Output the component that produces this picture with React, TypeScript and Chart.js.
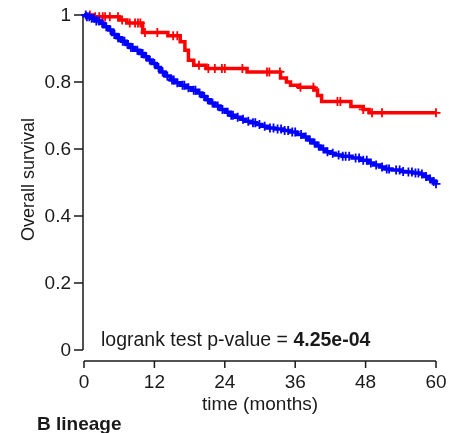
import { useEffect, useRef } from "react";
import { Chart, registerables } from "chart.js";

Chart.register(...registerables);

// Axis ticks
const monthTicks = [0, 12, 24, 36, 48, 60];
const survivalTicks = [0, 0.2, 0.4, 0.6, 0.8, 1];
const survivalTickLabels = ["0", "0.2", "0.4", "0.6", "0.8", "1"];

// Kaplan–Meier steps for the red group: event time (months) and survival after it
const redTimes = [0, 1.5, 6.0, 7.3, 10.0, 14.3, 16.4, 17.2, 17.8, 18.7, 20.8, 27.8, 33.5, 34.5, 35.2, 36.6, 39.2, 39.8, 40.5, 45.5, 47.6, 48.6, 60];
const redSurvival = [1.0, 0.995, 0.985, 0.976, 0.948, 0.938, 0.92, 0.895, 0.865, 0.85, 0.84, 0.83, 0.812, 0.80, 0.79, 0.784, 0.776, 0.76, 0.742, 0.727, 0.718, 0.708, 0.708];
const redCensored = [1.0, 1.9, 2.6, 3.2, 3.6, 4.4, 5.8, 6.5, 7.8, 8.7, 9.2, 9.6, 10.4, 12.5, 15.2, 15.9, 19.6, 21.2, 22.3, 23.5, 24.0, 27.0, 31.2, 31.6, 33.4, 36.9, 39.1, 43.2, 43.7, 47.6, 49.1, 50.8, 60.0];

// Kaplan–Meier steps for the blue group
const blueTimes = [0, 0.5, 1.2, 2.0, 2.7, 3.4, 4.2, 4.9, 5.6, 6.4, 7.2, 7.8, 8.6, 9.5, 10.3, 10.9, 11.6, 12.3, 13.0, 13.8, 14.7, 15.5, 16.4, 17.4, 18.3, 19.3, 20.1, 20.8, 21.5, 22.3, 23.2, 24.1, 24.9, 25.8, 26.7, 27.5, 28.3, 29.4, 30.3, 31.2, 32.5, 33.8, 35.1, 36.3, 37.4, 38.2, 38.9, 39.6, 40.3, 41.2, 42.0, 42.8, 44.0, 45.7, 47.0, 48.5, 49.4, 50.4, 51.3, 52.5, 54.0, 54.8, 56.0, 57.3, 58.0, 58.7, 59.4, 60.0];
const blueSurvival = [1.0, 0.995, 0.99, 0.982, 0.975, 0.965, 0.955, 0.942, 0.932, 0.922, 0.912, 0.903, 0.895, 0.885, 0.875, 0.866, 0.855, 0.843, 0.83, 0.818, 0.806, 0.798, 0.79, 0.783, 0.775, 0.767, 0.757, 0.747, 0.737, 0.728, 0.718, 0.71, 0.701, 0.695, 0.689, 0.683, 0.678, 0.673, 0.668, 0.663, 0.66, 0.655, 0.651, 0.643, 0.636, 0.627, 0.618, 0.609, 0.6, 0.592, 0.587, 0.582, 0.578, 0.573, 0.566, 0.558, 0.552, 0.546, 0.54, 0.537, 0.533, 0.531, 0.528, 0.525, 0.518, 0.51, 0.503, 0.496];
const blueCensored = [0.3, 0.5, 0.9, 1.3, 1.7, 2.1, 2.6, 3.1, 3.8, 4.5, 5.2, 5.8, 6.0, 6.6, 6.9, 7.5, 8.0, 8.3, 9.1, 9.8, 10.0, 10.6, 11.2, 12.0, 12.7, 13.4, 14.2, 15.0, 15.3, 15.9, 16.8, 17.1, 17.8, 18.7, 19.0, 19.7, 20.5, 21.1, 21.9, 22.8, 23.6, 24.5, 25.1, 25.4, 26.2, 27.1, 28.0, 28.8, 29.2, 29.9, 30.8, 31.7, 32.3, 33.0, 33.6, 34.2, 34.8, 35.5, 36.0, 37.0, 37.8, 38.5, 39.3, 40.0, 40.8, 41.5, 42.4, 43.4, 44.1, 44.6, 45.2, 46.3, 46.9, 47.6, 48.2, 48.9, 49.8, 50.8, 51.6, 52.0, 53.2, 53.8, 54.4, 55.3, 55.9, 56.5, 57.0, 57.6, 58.3, 59.0, 59.6, 60.0];

const pValueText = "logrank test p-value = ";
const pValueNumber = "4.25e-04";
const panelTitle = "B lineage";
const xTitle = "time (months)";
const yTitle = "Overall survival";

const RED = "#ff0000";
const BLUE = "#0000ff";
const INK = "#1a1a1a";
const FONT = "\"Liberation Sans\", Arial, sans-serif";

function stepPoints(times: number[], surv: number[]) {
  return times.map((t, i) => ({ x: t, y: surv[i] }));
}

function survivalAt(times: number[], surv: number[], t: number) {
  let s = surv[0];
  for (let i = 0; i < times.length; i++) {
    if (times[i] <= t) s = surv[i];
  }
  return s;
}

function censorPoints(times: number[], surv: number[], censored: number[]) {
  return censored.map((t) => ({ x: t, y: survivalAt(times, surv, t) }));
}

const axesAndText = {
  id: "axesAndText",
  beforeDatasetsDraw(chart: any) {
    const { ctx } = chart;
    const xs = chart.scales.x;
    const ys = chart.scales.y;
    const axisX = xs.getPixelForValue(0) - 1;
    const axisY = ys.getPixelForValue(ys.min);
    ctx.save();
    ctx.strokeStyle = INK;
    ctx.lineWidth = 1.5;
    ctx.beginPath();
    ctx.moveTo(axisX, ys.getPixelForValue(1));
    ctx.lineTo(axisX, ys.getPixelForValue(0));
    survivalTicks.forEach((v) => {
      const y = ys.getPixelForValue(v);
      ctx.moveTo(axisX - 9, y);
      ctx.lineTo(axisX, y);
    });
    ctx.moveTo(xs.getPixelForValue(0), axisY);
    ctx.lineTo(xs.getPixelForValue(60), axisY);
    monthTicks.forEach((v) => {
      const x = xs.getPixelForValue(v);
      ctx.moveTo(x, axisY);
      ctx.lineTo(x, axisY + 7);
    });
    ctx.stroke();
    ctx.restore();
  },
  afterDraw(chart: any) {
    const { ctx } = chart;
    const xs = chart.scales.x;
    const ys = chart.scales.y;
    const axisX = xs.getPixelForValue(0) - 1;
    const axisY = ys.getPixelForValue(ys.min);
    ctx.save();
    ctx.fillStyle = INK;
    ctx.textBaseline = "middle";

    ctx.font = `19px ${FONT}`;
    ctx.textAlign = "right";
    survivalTicks.forEach((v, i) => {
      ctx.fillText(survivalTickLabels[i], axisX - 12, ys.getPixelForValue(v) + 1);
    });

    ctx.textAlign = "center";
    monthTicks.forEach((v) => {
      ctx.fillText(String(v), xs.getPixelForValue(v), axisY + 22);
    });

    const area = chart.chartArea;
    ctx.fillText(xTitle, (area.left + area.right) / 2, axisY + 44);

    ctx.save();
    ctx.font = `18px ${FONT}`;
    ctx.translate(29, (ys.getPixelForValue(1) + ys.getPixelForValue(0)) / 2 - 3);
    ctx.rotate(-Math.PI / 2);
    ctx.fillText(yTitle, 0, 0);
    ctx.restore();

    ctx.textAlign = "left";
    ctx.font = `19.5px ${FONT}`;
    const px = xs.getPixelForValue(0) + 17;
    const py = ys.getPixelForValue(0) - 9;
    ctx.fillText(pValueText, px, py);
    const w = ctx.measureText(pValueText).width;
    ctx.font = `bold 19.5px ${FONT}`;
    ctx.fillText(pValueNumber, px + w, py);

    ctx.textBaseline = "alphabetic";
    ctx.font = `bold 19px ${FONT}`;
    ctx.fillText(panelTitle, 37, 430);
    ctx.restore();
  },
};

export default function App() {
  const canvasRef = useRef<HTMLCanvasElement | null>(null);

  useEffect(() => {
    const canvas = canvasRef.current;
    if (!canvas) return;
    const chart = new Chart(canvas, {
      type: "line",
      data: {
        datasets: [
          {
            label: "blue censored",
            data: censorPoints(blueTimes, blueSurvival, blueCensored),
            showLine: false,
            pointStyle: "cross",
            pointRadius: 4.5,
            pointBorderWidth: 1.8,
            pointBorderColor: BLUE,
            pointBackgroundColor: BLUE,
            clip: false,
          },
          {
            label: "blue",
            data: stepPoints(blueTimes, blueSurvival),
            stepped: "before",
            borderColor: BLUE,
            borderWidth: 3.5,
            pointRadius: 0,
            clip: false,
          },
          {
            label: "red censored",
            data: censorPoints(redTimes, redSurvival, redCensored),
            showLine: false,
            pointStyle: "cross",
            pointRadius: 4.5,
            pointBorderWidth: 1.8,
            pointBorderColor: RED,
            pointBackgroundColor: RED,
            clip: false,
          },
          {
            label: "red",
            data: stepPoints(redTimes, redSurvival),
            stepped: "before",
            borderColor: RED,
            borderWidth: 3.5,
            pointRadius: 0,
            clip: false,
          },
        ],
      },
      options: {
        animation: false,
        responsive: false,
        events: [],
        layout: { padding: { top: 15, right: 23, left: 0, bottom: 0 } },
        plugins: { legend: { display: false }, tooltip: { enabled: false } },
        scales: {
          x: {
            type: "linear",
            min: 0,
            max: 60,
            grid: { display: false },
            border: { display: false },
            ticks: { display: false },
            afterFit: (scale: any) => {
              scale.height = 72;
            },
          },
          y: {
            type: "linear",
            min: -0.033,
            max: 1,
            grid: { display: false },
            border: { display: false },
            ticks: { display: false },
            afterFit: (scale: any) => {
              scale.width = 84;
            },
          },
        },
      },
      plugins: [axesAndText],
    });
    return () => chart.destroy();
  }, []);

  return (
    <div style={{ position: "fixed", left: 0, top: 0, width: 459, height: 433, background: "#fff" }}>
      <canvas ref={canvasRef} width={459} height={433} style={{ display: "block" }} />
    </div>
  );
}
